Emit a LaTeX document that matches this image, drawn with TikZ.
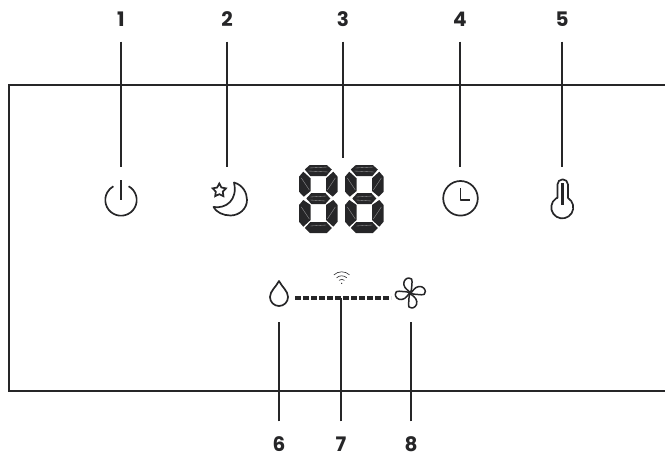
\documentclass[tikz,border=0pt]{standalone}
\usepackage{fontspec}
\setmainfont{Poppins}
\usetikzlibrary{shapes.geometric}
\definecolor{figK}{RGB}{38,38,40}
\tikzset{
  numlab/.style={font=\fontsize{20}{20}\selectfont\bfseries,text=figK,inner sep=0pt,minimum width=20pt},
  iconbox/.style={inner sep=0pt,outer sep=0pt,minimum width=#1,minimum height=66pt},
  leader/.style={line width=2.3pt,figK},
  icon/.style={line width=1.7pt,figK,line join=round},
  seg/.style={fill=figK,draw=none},
  segtex/.style={line width=0.35pt,white!55!figK}
}
\begin{document}
\begin{tikzpicture}[x=1pt,y=-1pt]
\useasboundingbox (0,0) rectangle (665,453);
\draw[line width=1.3pt,figK] (665,85)--(9,85)--(9,391)--(665,391);
% top row
\node[numlab,minimum height=44pt] (lab1) at (121,19.5) {1};
\node[numlab,minimum height=44pt] (lab2) at (227,19.5) {2};
\node[numlab,minimum height=44pt] (lab3) at (343,19.5) {3};
\node[numlab,minimum height=44pt] (lab4) at (460,19.5) {4};
\node[numlab,minimum height=44pt] (lab5) at (562,19.5) {5};
\node[iconbox=40pt] (power) at (121,200) {};
\node[iconbox=40pt] (moon) at (227,200) {};
\node[iconbox=100pt,minimum height=75pt] (display) at (343,195.5) {};
\node[iconbox=40pt] (clock) at (460,200) {};
\node[iconbox=30pt] (thermo) at (562,200) {};
\draw[leader] (lab1)--(power);
\draw[leader] (lab2)--(moon);
\draw[leader] (lab3)--(display);
\draw[leader] (lab4)--(clock);
\draw[leader] (lab5)--(thermo);
% bottom row
\node[numlab,minimum height=46pt] (lab6) at (279,444.5) {6};
\node[numlab,minimum height=46pt] (lab7) at (341,444.5) {7};
\node[numlab,minimum height=46pt] (lab8) at (411,444.5) {8};
\node[iconbox=32pt,minimum height=48pt] (drop) at (279,298) {};
\node[iconbox=40pt,minimum height=48pt] (fan) at (411,298) {};
\coordinate (link) at (341,298);
\draw[leader] (lab6)--(drop);
\draw[leader] (lab7)--(link);
\draw[leader] (lab8)--(fan);
\draw[figK,line width=3.3pt,dash pattern=on 5.6pt off 2.4pt] (drop)--(fan);
% power
\draw[icon] (121,200) ++(-61:15.7) arc[start angle=-61,end angle=241,radius=15.7];
\draw[icon,line width=2.6pt] (121,180)--(121,200);
% moon and star
\draw[icon] (234,182.5) .. controls (243,185) and (247,193) .. (247,200) .. controls (247,209) and (239,215.5) .. (230.5,215.5) .. controls (223,215.5) and (216,212) .. (213.5,207) .. controls (226,209) and (238,200) .. (234,182.5) -- cycle;
\node[star,star points=5,star point ratio=1.9,draw=figK,line width=1.7pt,inner sep=0pt,minimum size=14pt] (moonstar) at (219.3,190.5) {};
% two digits
\foreach \dx in {318.3,364.3} {
\begin{scope}[shift={(\dx,0)}]
\fill[seg] (-13.5,169.5)--(-8.5,165)--(8.5,165)--(13.5,169.5)--(8,176)--(-8,176)--cycle;
\fill[seg] (-12,198.5)--(-7,193)--(7,193)--(12,198.5)--(7,204)--(-7,204)--cycle;
\fill[seg] (-13.5,228)--(-8,222)--(8,222)--(13.5,228)--(8.5,233)--(-8.5,233)--cycle;
\draw[segtex] (-9,168)--(9,167) (-10,171)--(10,172) (-8,197)--(8,196) (-8,200)--(7,201) (-8,226)--(8,225);
\foreach \sx in {-1,1} {
\begin{scope}[xscale=\sx]
\fill[seg] (-15,171.7)--(-19.3,176.7)--(-19.3,191.7)--(-14.5,196.7)--(-7.7,191)--(-7.7,178.3)--cycle;
\fill[seg] (-15,200)--(-19.3,205)--(-19.3,221.7)--(-15,226.7)--(-7.7,220)--(-7.7,205)--cycle;
\draw[segtex] (-17,178)--(-9,190) (-17,207)--(-9,219);
\end{scope}
}
\end{scope}
}
% clock
\draw[icon] (460.5,198.3) circle[radius=17.3];
\draw[icon] (460.5,188.3)--(460.5,200)--(469.5,200);
% thermometer
\draw[icon] (557.4,198)--(557.4,184.6) arc[start angle=180,end angle=360,radius=5.3]--(568,198) arc[start angle=-58.6,end angle=238.6,radius=11]--cycle;
\draw[icon,line width=2.7pt] (562.7,183)--(562.7,205);
% drop
\draw[icon] (279,281) .. controls (276,287) and (270,291) .. (270,297) .. controls (270,302) and (274,306) .. (279,306) .. controls (284,306) and (288,302) .. (288,297) .. controls (288,291) and (282,287) .. (279,281) -- cycle;
% wifi
\foreach \r in {4,7.5,11.5}
  \draw[figK,line width=0.6pt] (341.7,283.3) ++(-133:\r) arc[start angle=-133,end angle=-47,radius=\r];
\fill[figK] (341.7,283.3) circle[radius=0.7];
% fan
\foreach \a in {0,90,180,270} {
\begin{scope}[shift={(410.3,293)},rotate=\a]
\draw[icon,line width=1.5pt] (0,0) .. controls (-1,-2.5) and (-6,-4) .. (-6.5,-8.5) .. controls (-7,-13) and (-3.5,-15) .. (-1.5,-15) .. controls (1,-15) and (2.5,-13.5) .. (1.8,-11) .. controls (1.2,-8.5) and (2,-4) .. (0,0);
\end{scope}
}
\end{tikzpicture}
\end{document}
